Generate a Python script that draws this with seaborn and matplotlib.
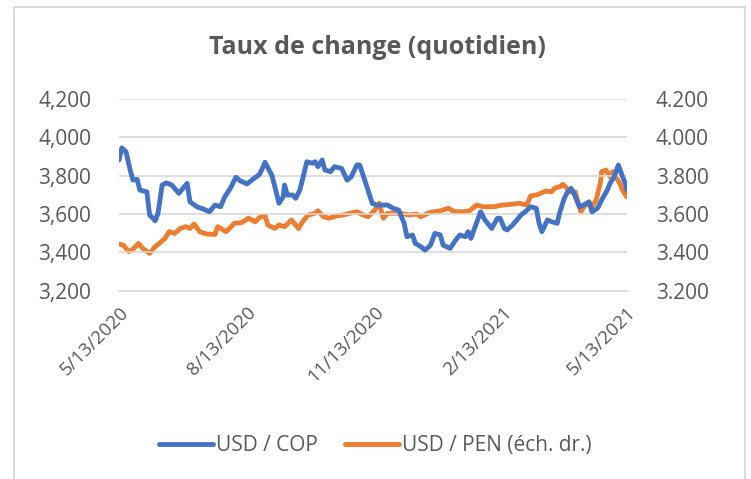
import pandas as pd
import matplotlib
matplotlib.use("Agg")
import matplotlib.pyplot as plt
import matplotlib.ticker as mticker
from matplotlib.lines import Line2D
import seaborn as sns

# USD / COP (days after 5/13/2020)
cop_days = [0, 2, 5, 8, 10, 13, 15, 20, 22, 26, 28, 31, 34, 38, 43, 49, 51, 56, 61, 65,
            69, 73, 76, 80, 84, 87, 92, 97, 101, 105, 110, 112, 115, 118, 119, 121, 125,
            127, 130, 133, 135, 139, 141, 143, 146, 148, 152, 155, 160, 164, 167, 171, 173,
            177, 179, 182, 185, 193, 197, 201, 205, 207, 211, 213, 217, 220, 224, 227, 231,
            233, 238, 242, 245, 249, 251, 253, 256, 260, 263, 266, 268, 272, 274, 277, 279,
            283, 286, 289, 292, 296, 300, 302, 304, 308, 311, 315, 317, 320, 322, 325, 327,
            331, 334, 338, 340, 344, 347, 351, 353, 356, 359, 362, 364, 365]
cop_values = [3882, 3945, 3925, 3830, 3777, 3781, 3725, 3716, 3595, 3565, 3604, 3751, 3763,
              3751, 3708, 3760, 3664, 3638, 3625, 3612, 3647, 3638, 3690, 3734, 3792, 3774,
              3757, 3786, 3806, 3870, 3800, 3743, 3656, 3690, 3751, 3699, 3699, 3682, 3725,
              3812, 3873, 3865, 3873, 3847, 3882, 3830, 3821, 3847, 3838, 3777, 3795, 3856,
              3856, 3769, 3725, 3656, 3647, 3647, 3630, 3621, 3552, 3482, 3491, 3447, 3430,
              3412, 3438, 3499, 3491, 3438, 3421, 3464, 3491, 3482, 3508, 3473, 3534, 3612,
              3569, 3543, 3525, 3578, 3578, 3525, 3517, 3543, 3569, 3595, 3612, 3638, 3630,
              3552, 3508, 3569, 3560, 3552, 3612, 3680, 3710, 3734, 3708, 3638, 3647, 3664,
              3612, 3630, 3673, 3725, 3760, 3795, 3856, 3795, 3760, 3725]

# USD / PEN (right axis)
pen_days = [0, 3, 7, 10, 14, 17, 22, 26, 29, 33, 36, 40, 44, 48, 51, 54, 58, 63, 69, 71,
            77, 83, 88, 93, 98, 101, 105, 107, 112, 115, 119, 124, 129, 132, 136, 141, 143,
            147, 151, 156, 161, 166, 171, 174, 179, 184, 187, 190, 193, 202, 209, 214, 217,
            223, 231, 237, 241, 247, 252, 257, 262, 269, 276, 283, 288, 293, 296, 300, 303,
            307, 311, 313, 317, 319, 322, 324, 328, 330, 332, 336, 340, 343, 346, 347, 350,
            353, 355, 357, 360, 362, 365]
pen_values = [3.443, 3.438, 3.404, 3.416, 3.447, 3.421, 3.395, 3.430, 3.447, 3.473, 3.508,
              3.499, 3.525, 3.534, 3.525, 3.548, 3.508, 3.496, 3.494, 3.534, 3.508, 3.552,
              3.555, 3.578, 3.560, 3.583, 3.591, 3.543, 3.525, 3.543, 3.534, 3.569, 3.525,
              3.560, 3.595, 3.604, 3.617, 3.586, 3.578, 3.590, 3.595, 3.604, 3.612, 3.600,
              3.586, 3.621, 3.656, 3.578, 3.604, 3.604, 3.595, 3.600, 3.586, 3.607, 3.617,
              3.630, 3.612, 3.612, 3.617, 3.647, 3.638, 3.638, 3.647, 3.652, 3.656, 3.647,
              3.695, 3.699, 3.708, 3.720, 3.716, 3.734, 3.743, 3.755, 3.735, 3.716, 3.716,
              3.664, 3.612, 3.656, 3.638, 3.673, 3.760, 3.821, 3.830, 3.795, 3.821, 3.795,
              3.760, 3.725, 3.690]

tick_labels = ["5/13/2020", "8/13/2020", "11/13/2020", "2/13/2021", "5/13/2021"]

start = pd.Timestamp("2020-05-13")
cop = pd.DataFrame({"date": start + pd.to_timedelta(cop_days, unit="D"), "value": cop_values})
pen = pd.DataFrame({"date": start + pd.to_timedelta(pen_days, unit="D"), "value": pen_values})

sns.set_theme(style="white")
plt.rcParams["font.family"] = ["Open Sans", "DejaVu Sans"]
text_color = "#595959"
grid_color = "#D9D9D9"
blue = "#4472C4"
orange = "#ED7D31"

fig = plt.figure(figsize=(7.51, 4.79), dpi=100)
ax = fig.add_axes([0.1585, 0.393, 0.676, 0.4003])
ax2 = ax.twinx()

sns.lineplot(data=cop, x="date", y="value", ax=ax, color=blue, linewidth=3.5,
             label="USD / COP", legend=False)
sns.lineplot(data=pen, x="date", y="value", ax=ax2, color=orange, linewidth=3.5,
             label="USD / PEN (éch. dr.)", legend=False)
ax.set_zorder(ax2.get_zorder() + 1)
ax.patch.set_visible(False)

ax.set_ylim(3200, 4200)
ax2.set_ylim(3.2, 4.2)
ax.set_yticks(range(3200, 4201, 200))
ax2.set_yticks([3.2, 3.4, 3.6, 3.8, 4.0, 4.2])
ax.yaxis.set_major_formatter(mticker.FuncFormatter(lambda v, p: f"{int(v):,}"))
ax2.yaxis.set_major_formatter(mticker.FuncFormatter(lambda v, p: f"{v:.3f}"))

ticks = pd.to_datetime(tick_labels, format="%m/%d/%Y")
ax.set_xlim(ticks[0], ticks[-1])
ax.set_xticks(ticks)
ax.set_xticklabels(tick_labels, rotation=45, ha="right", rotation_mode="anchor")

ax.grid(axis="y", color=grid_color, linewidth=1.2)
ax.set_axisbelow(True)
for a in (ax, ax2):
    for s in a.spines.values():
        s.set_visible(False)
    a.set_xlabel("")
    a.set_ylabel("")
ax.spines["bottom"].set_visible(True)
ax.spines["bottom"].set_color(grid_color)
ax.spines["bottom"].set_linewidth(1.2)

ax.tick_params(axis="x", colors=grid_color, length=5, width=1.2, direction="out",
               labelcolor=text_color, labelsize=13.5, pad=4)
ax.tick_params(axis="y", length=0, labelcolor=text_color, labelsize=15, pad=20)
ax2.tick_params(axis="y", length=0, labelcolor=text_color, labelsize=15, pad=21)

fig.text(0.503, 0.9, "Taux de change (quotidien)", ha="center", va="center",
         fontsize=18, fontweight="bold", color=text_color)

handles = [Line2D([], [], color=blue, linewidth=3.5, solid_capstyle="round"),
           Line2D([], [], color=orange, linewidth=3.5, solid_capstyle="round")]
fig.legend(handles, ["USD / COP", "USD / PEN (éch. dr.)"], loc="center",
           bbox_to_anchor=(0.5, 0.069), ncol=2, frameon=False, fontsize=15,
           labelcolor=text_color, handlelength=2.6, handletextpad=0.15, columnspacing=1.3)

# chart frame
for xs, ys in [([14, 14], [7, 479]), ([14, 745], [7, 7]), ([745, 745], [7, 479])]:
    fig.add_artist(Line2D([x / 751 for x in xs], [1 - y / 479 for y in ys],
                          color=grid_color, linewidth=1.5))

fig.savefig("out.png", dpi=100)
